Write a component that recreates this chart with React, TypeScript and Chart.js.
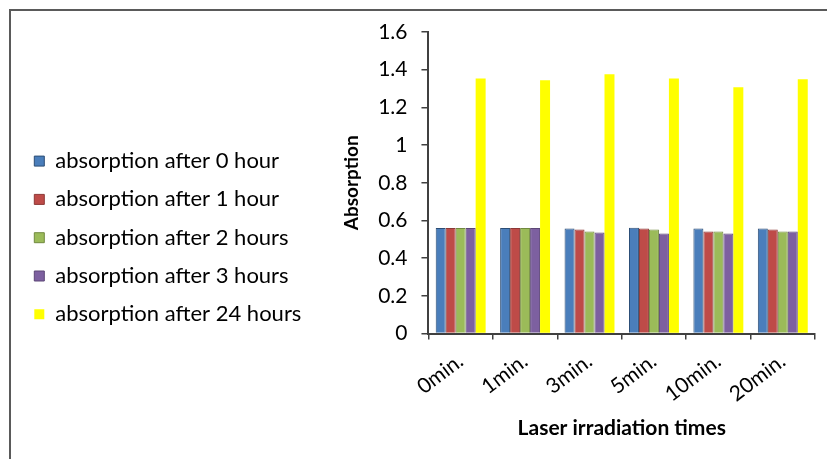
import { useEffect, useRef } from 'react';
import { Chart, registerables } from 'chart.js';

Chart.register(...registerables);

// Irradiation times on the category axis
const categories = ['0min.', '1min.', '3min.', '5min.', '10min.', '20min.'];

// Absorption readings for each waiting time after irradiation
const after0Hour = [0.56, 0.56, 0.557, 0.562, 0.557, 0.557];
const after1Hour = [0.56, 0.56, 0.552, 0.557, 0.541, 0.552];
const after2Hours = [0.56, 0.56, 0.541, 0.552, 0.541, 0.541];
const after3Hours = [0.56, 0.56, 0.536, 0.531, 0.531, 0.541];
const after24Hours = [1.353, 1.344, 1.376, 1.353, 1.307, 1.349];

const seriesNames = [
  'absorption after 0 hour',
  'absorption after 1 hour',
  'absorption after 2 hours',
  'absorption after 3 hours',
  'absorption after 24 hours',
];

const yMin = 0;
const yMax = 1.6;
const yStep = 0.2;

const FONT = 'Lato';

// Thin frame along the top and left edges of the figure
const framePlugin = {
  id: 'frame',
  beforeDraw(chart: Chart) {
    const ctx = chart.ctx;
    ctx.save();
    ctx.fillStyle = '#ffffff';
    ctx.fillRect(0, 0, chart.width, chart.height);
    ctx.fillStyle = '#5a5a5a';
    ctx.fillRect(9, 9, chart.width - 9, 2);
    ctx.fillRect(9, 9, 2, chart.height - 9);
    ctx.restore();
  },
};

export default function App() {
  const canvasRef = useRef<HTMLCanvasElement | null>(null);

  useEffect(() => {
    const canvas = canvasRef.current;
    if (!canvas) return;
    const series = [after0Hour, after1Hour, after2Hours, after3Hours, after24Hours];
    const fills = ['#4a7ebb', '#be4b48', '#9bbb59', '#7d60a0', '#ffff00'];
    const edges = ['#2c4d75', '#8c3836', '#71893f', '#5c4776', '#ffff00'];

    const chart = new Chart(canvas, {
      type: 'bar',
      data: {
        labels: categories,
        datasets: series.map((values, i) => ({
          label: seriesNames[i],
          data: values,
          backgroundColor: fills[i],
          borderColor: edges[i],
          borderWidth: i === 4 ? 0 : 1,
          borderSkipped: 'bottom',
          categoryPercentage: 0.775,
          barPercentage: 1.0,
        })),
      },
      options: {
        responsive: false,
        animation: false,
        layout: { padding: { left: 18, right: 12, top: 32, bottom: 18 } },
        plugins: {
          legend: {
            position: 'left',
            align: 'center',
            maxWidth: 400,
            title: { display: true, text: '', font: { size: 2 }, padding: 0 },
            labels: {
              boxWidth: 10,
              boxHeight: 10,
              padding: 16.3,
              color: '#000',
              font: { family: FONT, size: 22 },
            },
          },
          tooltip: { enabled: false },
        },
        scales: {
          x: {
            grid: {
              offset: true,
              drawOnChartArea: false,
              drawTicks: true,
              tickLength: 6,
              color: '#404040',
              lineWidth: 1.5,
            },
            border: { color: '#404040', width: 2 },
            ticks: {
              minRotation: 37,
              maxRotation: 37,
              padding: 9,
              color: '#000',
              font: { family: FONT, size: 21 },
            },
            title: {
              display: true,
              text: 'Laser irradiation times',
              color: '#000',
              font: { family: FONT, size: 21, weight: 'bold' },
              padding: { top: 0, bottom: 0 },
            },
          },
          y: {
            min: yMin,
            max: yMax,
            grid: {
              drawOnChartArea: false,
              drawTicks: true,
              tickLength: 7,
              color: '#404040',
              lineWidth: 1.5,
            },
            border: { color: '#404040', width: 2 },
            ticks: {
              stepSize: yStep,
              padding: 14,
              color: '#000',
              font: { family: FONT, size: 21 },
              callback: (value: number | string) => String(Number(Number(value).toFixed(2))),
            },
            title: {
              display: true,
              text: 'Absorption',
              color: '#000',
              font: { family: FONT, size: 19, weight: 'bold' },
              padding: { top: 29, bottom: 1 },
            },
          },
        },
      },
      plugins: [framePlugin],
    });

    return () => chart.destroy();
  }, []);

  return (
    <div style={{ position: 'absolute', left: 0, top: 0, width: 827, height: 459 }}>
      <canvas ref={canvasRef} width={827} height={459} style={{ display: 'block' }} />
    </div>
  );
}
